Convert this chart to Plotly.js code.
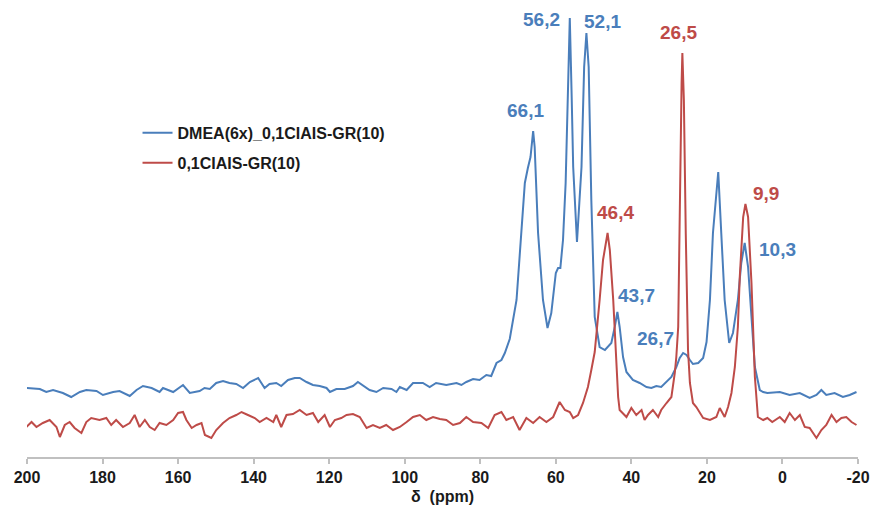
<!DOCTYPE html>
<html>
<head>
<meta charset="utf-8">
<script src="https://cdn.plot.ly/plotly-3.0.1.min.js"></script>
<style>html,body{margin:0;padding:0;background:#fff;}#chart{width:872px;height:513px;}</style>
</head>
<body>
<div id="chart"></div>
<script>
// Series names
const seriesNames = ["DMEA(6x)_0,1CIAIS-GR(10)", "0,1CIAIS-GR(10)"];

// Blue spectrum: chemical shift (ppm) and intensity (arbitrary units)
const blueX = [200.2,196.6,194.9,193.1,190.5,188.3,186,184.3,181.6,179.9,177.2,175.5,172.8,171,169.3,167,164.9,164,161.3,158.7,156.9,154.3,153,151.6,149.9,148.1,146.4,144.6,142.8,141,138.8,137.1,135.8,134,132.7,130.9,129.1,127.8,126,124.3,122.5,120.7,119.8,118.1,115.9,113.7,112.4,111,109.3,107.5,105.7,103.5,102.2,101.3,99.5,97.8,95.2,93.4,91.7,89,86.3,85,83.7,81.9,80.2,78.4,77.1,75.7,74.4,73.5,72.2,70.4,69.1,68.2,67.4,66.7,66.0,65.6,64.7,63.4,62.2,61.2,60.0,59.4,58.8,58.1,57.4,56.8,56.3,55.8,55.4,54.4,53.2,52.5,51.9,51.3,50.6,49.7,48.4,47.0,45.3,44.4,43.7,43.1,42.2,41.3,39.6,37.8,36,34.7,33.4,32.1,30.7,29.4,28.1,27.2,26.3,25.4,24.5,23.7,22.3,21.0,20.1,19.2,18.4,17.0,16.2,15.3,14.1,13.1,11.8,10.9,10.0,9.1,8.2,7.3,6.0,5.1,4.0,0.7,-1.9,-4.6,-7.2,-9,-10.3,-11.6,-13.8,-16,-17.8,-19.6];
const blueY = [69,68,65,67,64,60,65,67,66,62,65,66,61,67,71,69,65,69,65,72,64,66,69,68,74,76,74,73,69,75,79,69,73,74,71,77,79,79,75,72,71,69,65,68,68,71,75,71,67,65,69,68,65,70,67,74,74,70,74,72,74,72,75,78,77,82,81,94,97,104,118,157,224,274,289,300,326,310,224,157,129,144,184,189,189,217,274,357,439,360,290,215,290,390,424,390,257,140,110,107,114,130,145,130,100,85,77,74,70,69,71,70,75,80,90,99,104,102,97,93,94,99,115,157,224,285,224,157,114,124,157,194,214,190,140,90,67,65,64,65,62,64,59,62,67,62,64,60,62,65];

// Red spectrum
const redX = [200.2,198.8,197.5,195.8,194,192.2,191.3,190,188.7,187.4,185.6,184.3,183,180.8,179,177.7,176.4,174.6,172.8,171.5,170.2,168.8,167.5,166.2,164.9,163.1,161.3,160,158.7,157.8,156.4,155.1,153.8,152.9,151.2,149.9,148.1,146.4,144.6,143.2,141.5,139.7,138.4,136.6,134.8,134,132.7,131.3,129.6,127.8,126,124.3,122.9,121.2,119.8,118.5,116.8,115.4,113.7,111.9,110.1,108.4,106.6,104.9,103.1,101.3,99.5,97.8,96,94.3,92.5,90.7,89,87.2,85.4,83.7,81.9,79.7,77.9,76.2,74.4,73.1,71.3,69.6,67.8,66,64.3,62.5,60.7,59,57.6,56.3,55.4,54.1,52.8,51.5,50.6,49.7,48.4,47.5,46.3,45.7,44.8,44.0,43.5,43.1,41.3,40,38.7,37.3,36.5,35.6,34.3,32.9,32.1,30.7,29.4,28.5,28.1,27.6,27.2,26.7,26.5,26.1,25.6,25.0,24.5,23.7,22.8,21.9,21.0,19.2,17.5,16.6,15.3,14.4,13.5,12.6,11.8,11.3,10.4,9.8,9.1,8.2,7.3,6.5,5.1,4.0,2.7,0.7,-0.6,-1.9,-3.3,-4.6,-5.9,-7.2,-8.1,-9,-10.3,-11.6,-13,-14.3,-15.6,-16.9,-18.3,-19.6];
const redY = [30,35,30,34,37,30,20,32,35,29,24,35,39,37,39,32,37,30,34,42,30,37,30,27,34,32,37,44,45,37,29,32,34,22,19,27,34,39,42,45,42,39,35,39,35,42,30,42,43,47,42,44,35,42,30,37,39,42,43,40,29,32,29,32,27,30,35,40,42,37,40,38,37,32,34,40,35,34,29,42,45,37,40,27,39,34,40,35,40,55,47,45,39,42,54,70,87,105,157,197,224,207,157,95,60,47,40,49,42,47,37,42,47,40,47,54,60,84,100,130,257,374,404,357,224,107,74,54,50,45,39,37,40,49,40,50,64,90,130,180,240,253,240,174,80,40,37,39,35,40,35,44,37,42,30,29,24,19,27,32,42,35,39,40,35,32];

// Peak labels
const blueLabelText = ["56,2","52,1","66,1","43,7","26,7","10,3"];
const blueLabelX = [63.8,47.7,68.0,38.7,33.5,1.2];
const blueLabelY = [438,436,347,162,119,208];
const redLabelText = ["26,5","46,4","9,9"];
const redLabelX = [27.5,44.3,4.4];
const redLabelY = [425,245,264];

// Axis ticks
const xTickVals = [200,180,160,140,120,100,80,60,40,20,0,-20];
const xTickText = ["200","180","160","140","120","100","80","60","40","20","0","-20"];

const BLUE = "#4a7ebb";
const RED = "#be4b48";
const FONT = "Liberation Sans, Arial, sans-serif";

const traces = [
  {x: blueX, y: blueY, type: "scatter", mode: "lines", name: seriesNames[0], legendgroup: "a",
   line: {color: BLUE, width: 2}},
  {x: redX, y: redY, type: "scatter", mode: "lines", name: seriesNames[1], legendgroup: "b",
   line: {color: RED, width: 2}}
];

const annotations = [];
blueLabelText.forEach((t, i) => annotations.push({
  x: blueLabelX[i], y: blueLabelY[i], xref: "x", yref: "y", text: t, showarrow: false,
  xanchor: "center", yanchor: "middle",
  font: {family: FONT, size: 19, color: BLUE, weight: "bold"}
}));
redLabelText.forEach((t, i) => annotations.push({
  x: redLabelX[i], y: redLabelY[i], xref: "x", yref: "y", text: t, showarrow: false,
  xanchor: "center", yanchor: "middle",
  font: {family: FONT, size: 19, color: RED, weight: "bold"}
}));

const layout = {
  width: 872, height: 513,
  margin: {l: 27, r: 14, t: 10, b: 56},
  paper_bgcolor: "#fff", plot_bgcolor: "#fff",
  showlegend: true,
  legend: {x: 0.133, y: 0.763, xanchor: "left", yanchor: "top",
    bgcolor: "rgba(0,0,0,0)", tracegroupgap: 6, itemwidth: 30,
    font: {family: FONT, size: 16, color: "#1a1a1a", weight: "bold"}},
  xaxis: {
    range: [200, -20], tickmode: "array", tickvals: xTickVals, ticktext: xTickText,
    ticks: "outside", ticklen: 5, tickwidth: 2, tickcolor: "#c0c0c0",
    showline: true, linecolor: "#c0c0c0", linewidth: 2,
    showgrid: false, zeroline: false,
    tickfont: {family: FONT, size: 16, color: "#1a1a1a", weight: "bold"},
    title: {text: "δ&nbsp;&nbsp;(ppm)", standoff: 6,
      font: {family: FONT, size: 16, color: "#1a1a1a", weight: "bold"}}
  },
  yaxis: {visible: false, range: [0, 447], showgrid: false, zeroline: false},
  annotations: annotations
};

Plotly.newPlot("chart", traces, layout, {displayModeBar: false, staticPlot: true});
</script>
</body>
</html>
